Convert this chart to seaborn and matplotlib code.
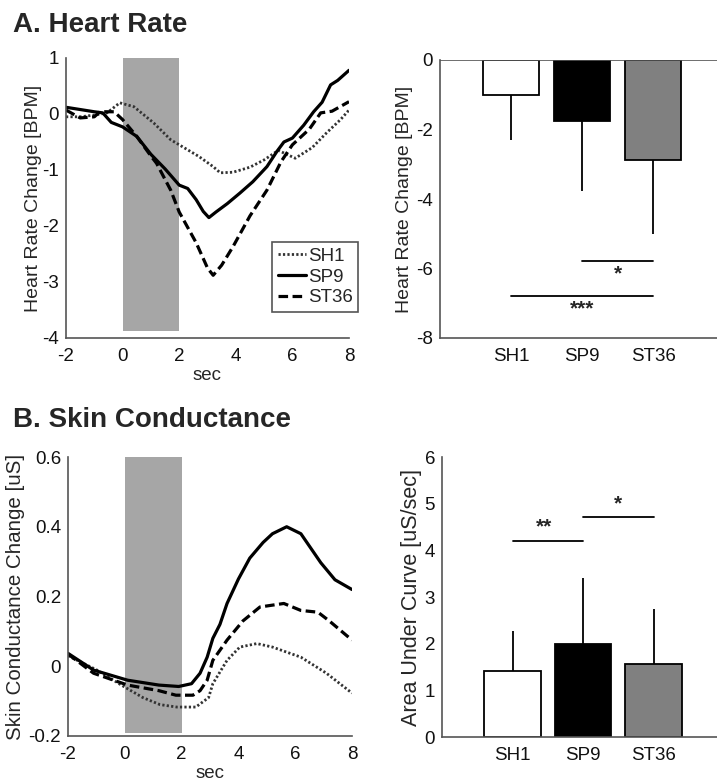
import numpy as np
import pandas as pd
import seaborn as sns
import matplotlib
matplotlib.use("Agg")
import matplotlib.pyplot as plt

sns.set_theme(style="white")
plt.rcParams['font.family'] = ['Liberation Sans', 'DejaVu Sans']
plt.rcParams['axes.unicode_minus'] = False

groups = ['SH1', 'SP9', 'ST36']
bar_colors = ['white', 'black', '#808080']

# heart rate change time courses [BPM]
hr_sh1_t = [-2, -1.5, -1.0, -0.55, -0.1, 0.4, 1.1, 1.7, 2.0, 2.7, 3.2, 3.45, 3.9, 4.5, 5.0, 5.5, 6.1, 6.7, 7.2, 7.7, 8.0]
hr_sh1 = [-0.05, -0.05, -0.02, 0.02, 0.2, 0.13, -0.16, -0.46, -0.55, -0.76, -0.94, -1.05, -1.04, -0.95, -0.82, -0.65, -0.79, -0.6, -0.34, -0.1, 0.07]
hr_sp9_t = [-2, -1.5, -1.0, -0.7, -0.4, 0.0, 0.5, 1.0, 1.5, 2.0, 2.3, 2.6, 2.85, 3.05, 3.3, 3.7, 4.15, 4.6, 5.1, 5.45, 5.7, 6.0, 6.4, 6.75, 7.05, 7.35, 7.6, 8.0]
hr_sp9 = [0.12, 0.08, 0.04, 0.02, -0.15, -0.23, -0.4, -0.72, -0.98, -1.27, -1.33, -1.53, -1.74, -1.85, -1.75, -1.6, -1.41, -1.21, -0.94, -0.67, -0.5, -0.43, -0.2, 0.04, 0.21, 0.52, 0.6, 0.78]
hr_st36_t = [-2, -1.5, -1.0, -0.8, -0.3, 0.0, 0.5, 1.0, 1.2, 1.7, 2.0, 2.6, 3.0, 3.2, 3.5, 3.9, 4.5, 5.1, 5.6, 6.0, 6.6, 7.0, 7.4, 8.0]
hr_st36 = [0.07, -0.07, -0.05, 0.04, 0.04, -0.1, -0.4, -0.75, -0.88, -1.36, -1.75, -2.3, -2.75, -2.88, -2.7, -2.37, -1.82, -1.36, -0.85, -0.55, -0.27, 0.02, 0.05, 0.22]

# skin conductance change time courses [uS]
sc_sh1_t = [-2, -1.0, -0.5, -0.1, 0.64, 1.24, 1.83, 2.5, 2.95, 3.1, 3.6, 4.05, 4.65, 5.2, 6.2, 7.1, 8.0]
sc_sh1 = [0.03, -0.01, -0.035, -0.055, -0.09, -0.11, -0.117, -0.117, -0.09, -0.05, 0.017, 0.055, 0.065, 0.055, 0.026, -0.02, -0.077]
sc_sp9_t = [-2, -1.1, 0.1, 1.2, 1.9, 2.35, 2.65, 2.9, 3.1, 3.35, 3.6, 4.0, 4.4, 4.87, 5.2, 5.7, 6.2, 6.9, 7.4, 8.0]
sc_sp9 = [0.037, -0.011, -0.04, -0.054, -0.058, -0.05, -0.02, 0.026, 0.08, 0.12, 0.18, 0.25, 0.31, 0.355, 0.38, 0.40, 0.38, 0.297, 0.248, 0.22]
sc_st36_t = [-2, -1.1, 0.1, 1.2, 1.8, 2.4, 2.65, 2.9, 3.1, 3.6, 4.16, 4.76, 5.6, 6.2, 6.8, 7.2, 8.0]
sc_st36 = [0.035, -0.02, -0.054, -0.07, -0.083, -0.083, -0.07, -0.04, 0.017, 0.075, 0.13, 0.17, 0.18, 0.16, 0.155, 0.13, 0.075]

# bar summaries (mean, one-sided error)
hr_mean = [-1.0, -1.75, -2.88]
hr_err = [1.3, 2.01, 2.14]
sc_mean = [1.42, 2.0, 1.56]
sc_err = [0.85, 1.4, 1.18]

# significance brackets: (x0, x1, y_line, x_text, y_text, label)
hr_sig = [(1, 2, -5.78, 1.5, -6.16, '*'), (0, 2, -6.78, 1.0, -7.15, '***')]
sc_sig = [(0, 1, 4.2, 0.45, 4.5, '**'), (1, 2, 4.71, 1.5, 5.0, '*')]

W, H = 717, 783
fig = plt.figure(figsize=(W / 100, H / 100), dpi=100)

def box(l, r, t, b):
    return [l / W, 1 - b / H, (r - l) / W, (b - t) / H]

ax1 = fig.add_axes(box(66, 349, 58, 338))
ax2 = fig.add_axes(box(440, 717, 60, 338))
ax3 = fig.add_axes(box(68, 352, 457, 736))
ax4 = fig.add_axes(box(442, 717, 457, 737))

spine_c = '#555555'
fs = 13.5

def style(ax):
    for s in ['top', 'right']:
        ax.spines[s].set_visible(False)
    for s in ['left', 'bottom']:
        ax.spines[s].set_color(spine_c)
        ax.spines[s].set_linewidth(1.2)
    ax.tick_params(direction='in', length=4, width=1, color=spine_c,
                   labelsize=fs, labelcolor='#111111', pad=5)
    ax.tick_params(axis='x', pad=7)

styles = {'SH1': dict(color='#333333', linestyle=(0, (0.8, 0.8)), linewidth=2.0),
          'SP9': dict(color='black', linestyle='-', linewidth=2.3),
          'ST36': dict(color='black', linestyle=(0, (3, 1.4)), linewidth=2.3)}

def time_panel(ax, series, ylim, shade_bottom, yticks, ylabels, ylabel, lab_x, lab_fs, legend=False):
    ax.fill_between([0, 2], shade_bottom, ylim[1], color='#a6a6a6', lw=0, zorder=0)
    for name, t, v in series:
        sns.lineplot(x=t, y=v, ax=ax, label=name if legend else None, sort=False, **styles[name])
    ax.set_xlim(-2, 8)
    ax.set_ylim(*ylim)
    ax.set_xticks([-2, 0, 2, 4, 6, 8])
    ax.set_xticklabels(['-2', '0', '2', '4', '6', '8'])
    ax.set_yticks(yticks)
    ax.set_yticklabels(ylabels)
    ax.set_xlabel('sec', fontsize=fs, labelpad=2)
    ax.set_ylabel(ylabel, fontsize=lab_fs)
    ax.yaxis.set_label_coords(lab_x, 0.5)
    style(ax)

def bar_panel(ax, means, errs, ylim, yticks, ylabel, lab_x, lab_fs, sig, down):
    df = pd.DataFrame({'group': groups, 'value': means})
    sns.barplot(data=df, x='group', y='value', hue='group', palette=bar_colors,
                edgecolor='black', linewidth=1.3, errorbar=None, legend=False,
                width=0.8, ax=ax, zorder=2)
    z = np.zeros(len(errs))
    yerr = [errs, z] if down else [z, errs]
    ax.errorbar(range(len(groups)), means, yerr=yerr, fmt='none',
                ecolor='black', elinewidth=1.3, capsize=0, zorder=3)
    for x0, x1, yl, xt, yt, lab in sig:
        ax.plot([x0, x1], [yl, yl], color='black', lw=1.3)
        ax.text(xt, yt, lab, ha='center', va='center', fontsize=15, fontweight='bold')
    ax.set_xlim(-1, 2.9)
    ax.set_ylim(*ylim)
    ax.set_yticks(yticks)
    ax.set_yticklabels([str(v) for v in yticks])
    ax.set_xlabel('')
    ax.set_ylabel(ylabel, fontsize=lab_fs)
    ax.yaxis.set_label_coords(lab_x, 0.5)
    style(ax)

time_panel(ax1, [('SH1', hr_sh1_t, hr_sh1), ('SP9', hr_sp9_t, hr_sp9), ('ST36', hr_st36_t, hr_st36)],
           (-4, 1), -3.88, [-4, -3, -2, -1, 0, 1], ['-4', '-3', '-2', '-1', '0', '1'],
           'Heart Rate Change [BPM]', -0.085, 14, legend=True)
leg = ax1.legend(loc='upper left', bbox_to_anchor=(0.728, 0.343), borderaxespad=0,
                 fontsize=fs, handlelength=1.5, handletextpad=0.1, labelspacing=0.2,
                 borderpad=0.3, fancybox=False, framealpha=1, edgecolor=spine_c)
leg.get_frame().set_linewidth(1.2)

time_panel(ax3, [('SH1', sc_sh1_t, sc_sh1), ('SP9', sc_sp9_t, sc_sp9), ('ST36', sc_st36_t, sc_st36)],
           (-0.2, 0.6), -0.19, [-0.2, 0, 0.2, 0.4, 0.6], ['-0.2', '0', '0.2', '0.4', '0.6'],
           'Skin Conductance Change [uS]', -0.151, 14.8)

bar_panel(ax2, hr_mean, hr_err, (-8, 0), [-8, -6, -4, -2, 0], 'Heart Rate Change [BPM]',
          -0.097, 14, hr_sig, down=True)
ax2.axhline(0, color=spine_c, lw=1.2, zorder=4)
bar_panel(ax4, sc_mean, sc_err, (0, 6), [0, 1, 2, 3, 4, 5, 6], 'Area Under Curve [uS/sec]',
          -0.073, 15.5, sc_sig, down=False)

fig.text(13 / W, 1 - 32 / H, 'A. Heart Rate', fontsize=20, fontweight='bold', va='baseline')
fig.text(13 / W, 1 - 427 / H, 'B. Skin Conductance', fontsize=20, fontweight='bold', va='baseline')

fig.savefig('out.png', dpi=100)
